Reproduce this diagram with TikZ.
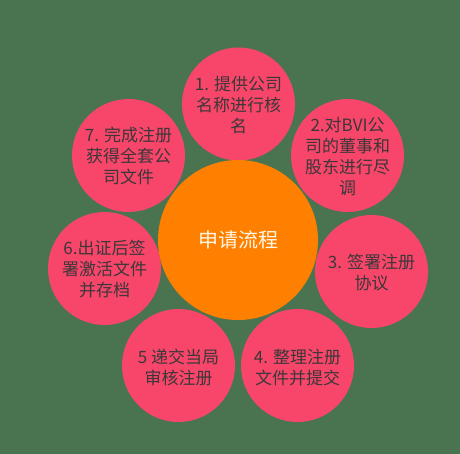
\documentclass[tikz,border=0pt]{standalone}
\usepackage{fontspec}
\setmainfont{Noto Sans CJK SC}
\begin{document}
\begin{tikzpicture}[x=1pt,y=-1pt,
  petal/.style={circle,fill=petalpink,minimum size=113pt,inner sep=0pt},
  petaltext/.style={text=txtgray,align=center,font=\fontsize{17pt}{21.3pt}\selectfont},
  hub/.style={circle,fill=huborange,minimum size=160pt,inner sep=0pt}]
\definecolor{bggreen}{RGB}{74,116,80}
\definecolor{petalpink}{RGB}{247,70,105}
\definecolor{huborange}{RGB}{255,128,0}
\definecolor{txtgray}{RGB}{60,55,58}
\definecolor{hubtext}{RGB}{255,248,230}
\fill[bggreen] (0,0) rectangle (460,454);
\useasboundingbox (0,0) rectangle (460,454);
\node[petal] (p1) at (238.5,104) {};
\node[petal] (p2) at (347.5,155.5) {};
\node[petal] (p3) at (371.5,271.5) {};
\node[petal] (p4) at (297.5,365.5) {};
\node[petal] (p5) at (178.5,365.5) {};
\node[petal] (p6) at (104.5,268.5) {};
\node[petal] (p7) at (128.5,155.5) {};
\node[hub] (hub) at (238,240) {};
\node[text=hubtext,font=\fontsize{20pt}{24pt}\selectfont] (ht) at (hub.center) {申请流程};
\node[petaltext] (t1) at (238.5,105) {1. 提供公司\\名称进行核\\名};
\node[petaltext] (t2) at (347.5,156.5) {2.对BVI公\\司的董事和\\股东进行尽\\调};
\node[petaltext] (t3) at (371.5,272.5) {3. 签署注册\\协议};
\node[petaltext] (t4) at (297.5,367.5) {4. 整理注册\\文件并提交};
\node[petaltext] (t5) at (178.5,367.5) {5 递交当局\\审核注册};
\node[petaltext] (t6) at (104.5,269) {6.出证后签\\署激活文件\\并存档};
\node[petaltext] (t7) at (128.5,156) {7. 完成注册\\获得全套公\\司文件};
\end{tikzpicture}
\end{document}
